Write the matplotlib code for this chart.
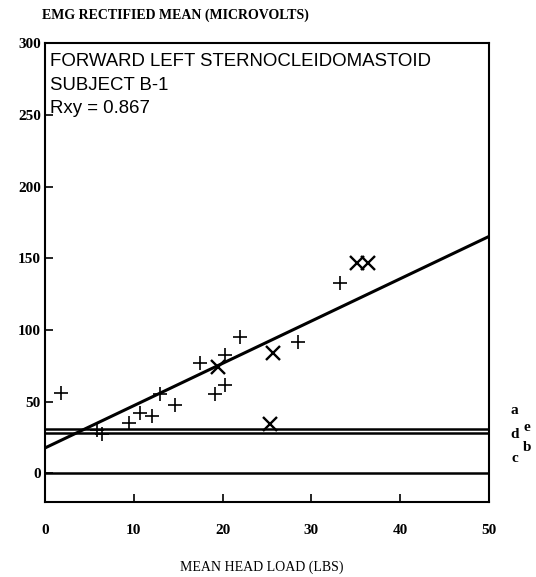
import numpy as np
import matplotlib.pyplot as plt

# data
plus_x = [1.8, 5.8, 6.4, 9.5, 10.7, 12.1, 13.0, 14.6, 17.5, 19.1, 20.3, 20.3, 22.0, 28.5, 33.2]
plus_y = [55.8, 30.0, 27.5, 35.3, 41.8, 40.2, 55.1, 47.6, 76.7, 55.3, 82.5, 61.6, 94.8, 91.8, 132.9]
cross_x = [19.5, 25.7, 25.4, 35.1, 36.4]
cross_y = [74.3, 83.7, 34.4, 146.4, 146.4]

# regression line
intercept = 17.7
slope = 2.95

# reference levels
level_y = [31.0, 28.0, 0.0]
level_labels = ['a', 'e', 'd', 'b', 'c']
level_label_x = [52.9, 54.3, 52.9, 54.3, 52.9]
level_label_y = [43.5, 32.3, 27.4, 17.7, 10.0]

xticks = [0, 10, 20, 30, 40, 50]
yticks = [0, 50, 100, 150, 200, 250, 300]

fig = plt.figure(figsize=(5.36, 5.77), dpi=100)
ax = fig.add_axes([0.084, 0.130, 0.828, 0.795])

xl = np.array([0, 50])
ax.plot(xl, intercept + slope * xl, color='black', lw=2.2)
for yv in level_y:
    ax.axhline(yv, color='black', lw=1.8)

ax.plot(plus_x, plus_y, '+', color='black', ms=10.5, mew=1.2)
ax.plot(cross_x, cross_y, 'x', color='black', ms=9.5, mew=1.7)

ax.set_xlim(0, 50)
ax.set_ylim(-20, 300)
ax.set_xticks(xticks)
ax.set_yticks(yticks)
ax.tick_params(axis='both', direction='in', length=6, width=1.2, labelsize=11)
ax.tick_params(axis='x', pad=16)
ax.tick_params(axis='y', pad=3)
for lab in ax.get_xticklabels() + ax.get_yticklabels():
    lab.set_fontfamily('Liberation Serif')
    lab.set_fontweight('bold')
for s in ax.spines.values():
    s.set_linewidth(1.5)

ax.text(0.6, 293, 'FORWARD LEFT STERNOCLEIDOMASTOID\nSUBJECT B-1\nRxy = 0.867',
        fontsize=13.4, family='Liberation Sans', va='top', ha='left', linespacing=1.5)

for lx, ly, lt in zip(level_label_x, level_label_y, level_labels):
    ax.text(lx, ly, lt, fontsize=11, family='Liberation Serif', fontweight='bold',
            ha='center', va='center', clip_on=False)

fig.text(42 / 536, 1 - 15 / 577, 'EMG RECTIFIED MEAN (MICROVOLTS)', fontsize=10,
         family='Liberation Serif', fontweight='bold', ha='left', va='center')
fig.text(262 / 536, 1 - 567 / 577, 'MEAN HEAD LOAD (LBS)', fontsize=10,
         family='Liberation Serif', ha='center', va='center')

fig.savefig('out.png', dpi=100)
